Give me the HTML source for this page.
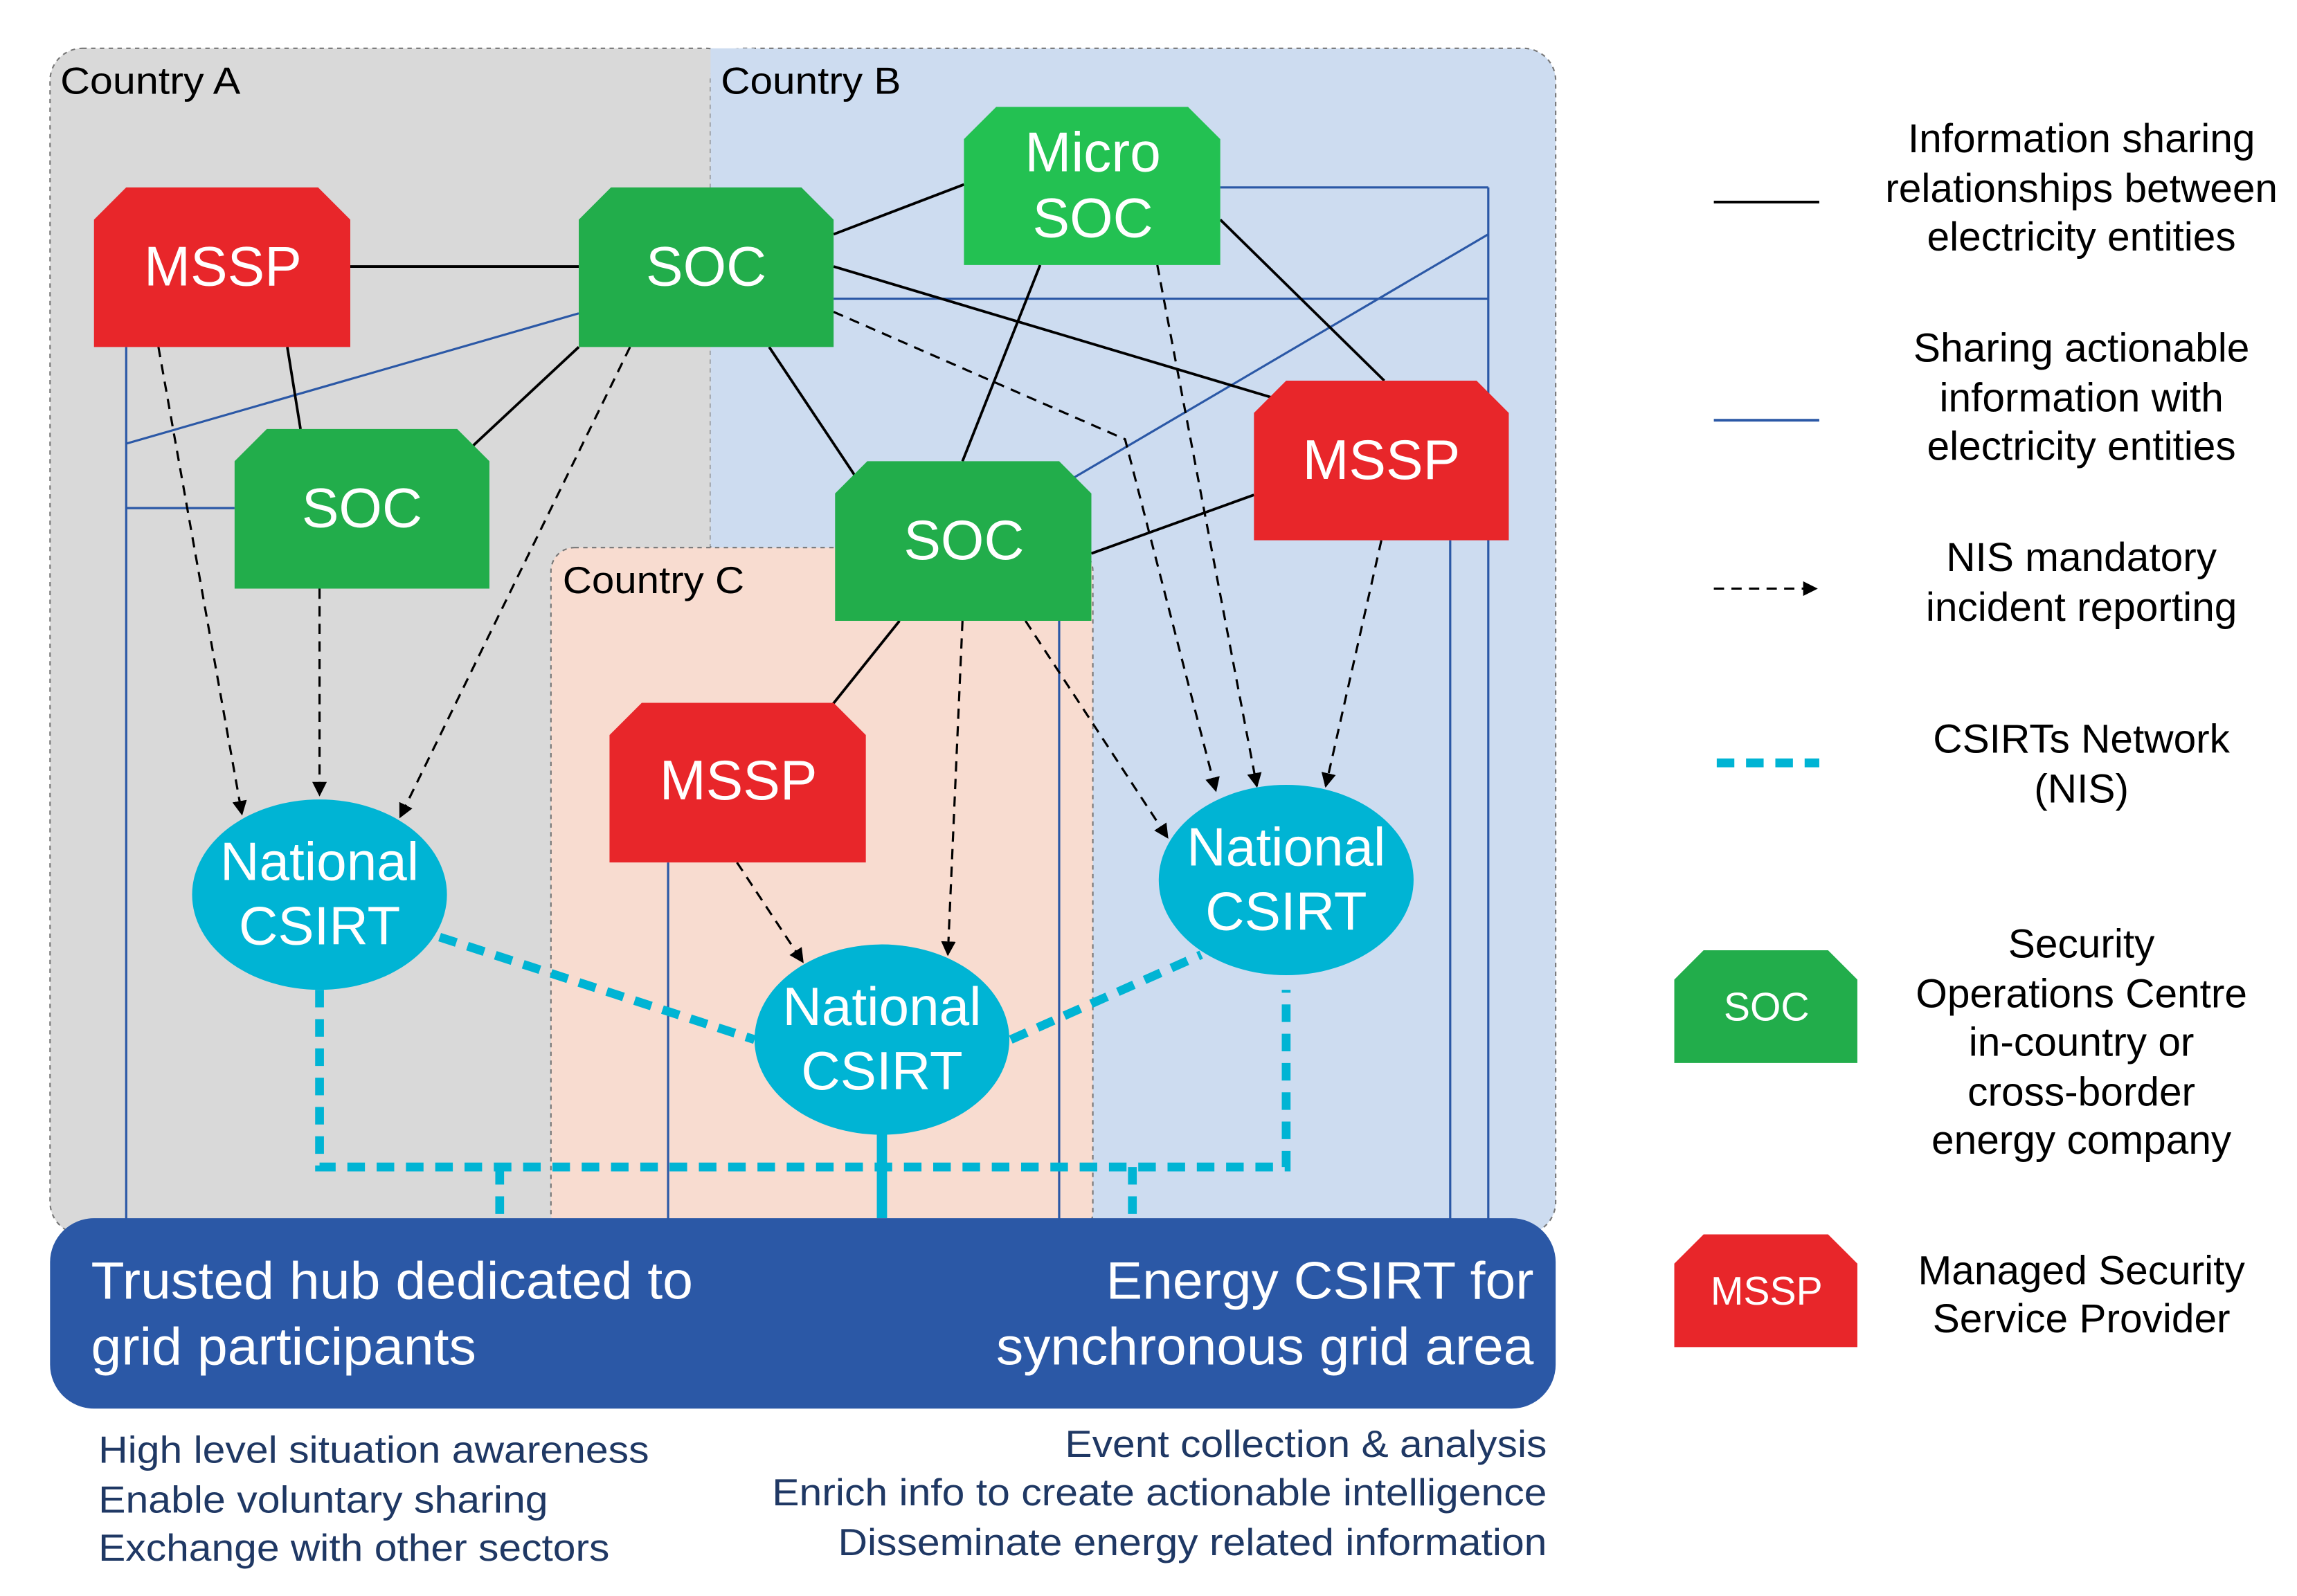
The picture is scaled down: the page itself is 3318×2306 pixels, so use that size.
<!DOCTYPE html>
<html><head><meta charset="utf-8"><style>
html,body{margin:0;padding:0;background:#fff}
svg{display:block}
text{font-family:"Liberation Sans",Arial,sans-serif}
</style></head><body>
<svg width="3318" height="2306" viewBox="0 0 1568 1090" xmlns="http://www.w3.org/2000/svg">
<defs>
<marker id="ah" markerWidth="10" markerHeight="10" refX="9" refY="5" orient="auto" markerUnits="userSpaceOnUse"><path d="M0,0 L10,5 L0,10 z" fill="#000"/></marker>
</defs>
<rect width="1568" height="1090" fill="#fff"/>
<rect x="34" y="33" width="470" height="810" rx="22" fill="#d9d9d9" stroke="#777" stroke-dasharray="3,3"/>
<rect x="485" y="33" width="577" height="810" rx="22" fill="#cddcf0" stroke="#777" stroke-dasharray="3,3"/>
<rect x="485" y="33" width="30" height="340" fill="#cddcf0"/>
<rect x="376" y="374" width="370" height="470" rx="16" fill="#f8dcd0" stroke="#777" stroke-dasharray="3,3"/>
<text x="41" y="64" font-size="26" textLength="123" lengthAdjust="spacingAndGlyphs">Country A</text>
<text x="492" y="64" font-size="26" textLength="123" lengthAdjust="spacingAndGlyphs">Country B</text>
<text x="384" y="405" font-size="26" textLength="124" lengthAdjust="spacingAndGlyphs">Country C</text>
<g stroke="#2b58a6" stroke-width="1.5" fill="none">
<line x1="86" y1="237" x2="86" y2="834"/>
<line x1="1016" y1="128" x2="1016" y2="834"/>
<line x1="833" y1="128" x2="1016" y2="128"/>
<line x1="569" y1="204" x2="1016" y2="204"/>
<line x1="86" y1="303" x2="395" y2="214"/>
<line x1="86" y1="347" x2="160" y2="347"/>
<line x1="730" y1="328" x2="1016" y2="160"/>
<line x1="990" y1="369" x2="990" y2="834"/>
<line x1="456" y1="589" x2="456" y2="834"/>
<line x1="723" y1="424" x2="723" y2="834"/>
</g>
<g stroke="#000" stroke-width="1.8">
<line x1="239" y1="182" x2="395" y2="182"/>
<line x1="196" y1="237" x2="205" y2="293"/>
<line x1="395" y1="237" x2="320" y2="307"/>
<line x1="569" y1="160" x2="658" y2="126"/>
<line x1="569" y1="182" x2="870" y2="272"/>
<line x1="525" y1="237" x2="585" y2="327"/>
<line x1="710" y1="181" x2="657" y2="315"/>
<line x1="833" y1="150" x2="945" y2="260"/>
<line x1="745" y1="378" x2="856" y2="338"/>
<line x1="614" y1="424" x2="566" y2="484"/>
</g>
<g stroke="#000" stroke-width="1.5" stroke-dasharray="7,5" fill="none" marker-end="url(#ah)">
<line x1="108" y1="237" x2="165" y2="556"/>
<line x1="218" y1="402" x2="218" y2="543"/>
<line x1="430" y1="237" x2="273" y2="558"/>
<polyline points="569,213 768,300 830,540"/>
<line x1="790" y1="181" x2="858" y2="537"/>
<line x1="943" y1="369" x2="905" y2="537"/>
<line x1="700" y1="424" x2="797" y2="572"/>
<line x1="657" y1="424" x2="647" y2="652"/>
<line x1="503" y1="589" x2="548" y2="657"/>
</g>
<g stroke="#00b4d4" stroke-width="6" fill="none" stroke-dasharray="12,8">
<line x1="300" y1="640" x2="515" y2="710"/>
<line x1="690" y1="710" x2="820" y2="652"/>
<polyline points="218,676 218,797 878,797 878,676"/>
<line x1="341" y1="797" x2="341" y2="832"/>
<line x1="773" y1="797" x2="773" y2="832"/>
</g>
<line x1="602" y1="770" x2="602" y2="832" stroke="#00b4d4" stroke-width="7"/>
<g font-size="38" fill="#fff" text-anchor="middle">
<path d="M86,128 H217 L239,150 V237 H64 V150 Z" fill="#e8262a"/><text x="152" y="195" fill="#fff">MSSP</text>
<path d="M417,128 H547 L569,150 V237 H395 V150 Z" fill="#22ad4b"/><text x="482" y="195" fill="#fff">SOC</text>
<path d="M680,73 H811 L833,95 V181 H658 V95 Z" fill="#23c152"/><text x="746" y="117" fill="#fff">Micro</text><text x="746" y="162" fill="#fff">SOC</text>
<path d="M182,293 H312 L334,315 V402 H160 V315 Z" fill="#22ad4b"/><text x="247" y="360" fill="#fff">SOC</text>
<path d="M592,315 H723 L745,337 V424 H570 V337 Z" fill="#22ad4b"/><text x="658" y="382" fill="#fff">SOC</text>
<path d="M878,260 H1008 L1030,282 V369 H856 V282 Z" fill="#e8262a"/><text x="943" y="327" fill="#fff">MSSP</text>
<path d="M438,480 H569 L591,502 V589 H416 V502 Z" fill="#e8262a"/><text x="504" y="546" fill="#fff">MSSP</text>
</g>
<g font-size="37" fill="#fff" text-anchor="middle">
<ellipse cx="218" cy="611" rx="87" ry="65" fill="#00b4d4"/><text x="218" y="601" fill="#fff">National</text><text x="218" y="645" fill="#fff">CSIRT</text>
<ellipse cx="602" cy="710" rx="87" ry="65" fill="#00b4d4"/><text x="602" y="700" fill="#fff">National</text><text x="602" y="744" fill="#fff">CSIRT</text>
<ellipse cx="878" cy="601" rx="87" ry="65" fill="#00b4d4"/><text x="878" y="591" fill="#fff">National</text><text x="878" y="635" fill="#fff">CSIRT</text>
</g>
<rect x="34" y="832" width="1028" height="130" rx="30" fill="#2b58a6"/>
<g font-size="36" fill="#fff" lengthAdjust="spacingAndGlyphs">
<text x="62" y="887" fill="#fff" textLength="411" lengthAdjust="spacingAndGlyphs">Trusted hub dedicated to</text>
<text x="62" y="932" fill="#fff" textLength="263" lengthAdjust="spacingAndGlyphs">grid participants</text>
<text x="1047" y="887" fill="#fff" text-anchor="end" textLength="292" lengthAdjust="spacingAndGlyphs">Energy CSIRT for</text>
<text x="1047" y="932" fill="#fff" text-anchor="end" textLength="367" lengthAdjust="spacingAndGlyphs">synchronous grid area</text>
</g>
<g font-size="26" fill="#1f3864">
<text x="67" y="999" textLength="376" lengthAdjust="spacingAndGlyphs">High level situation awareness</text>
<text x="67" y="1033" textLength="307" lengthAdjust="spacingAndGlyphs">Enable voluntary sharing</text>
<text x="67" y="1066" textLength="349" lengthAdjust="spacingAndGlyphs">Exchange with other sectors</text>
<text x="1056" y="995" text-anchor="end" textLength="329" lengthAdjust="spacingAndGlyphs">Event collection &amp; analysis</text>
<text x="1056" y="1028" text-anchor="end" textLength="529" lengthAdjust="spacingAndGlyphs">Enrich info to create actionable intelligence</text>
<text x="1056" y="1062" text-anchor="end" textLength="484" lengthAdjust="spacingAndGlyphs">Disseminate energy related information</text>
</g>
<line x1="1170" y1="138" x2="1242" y2="138" stroke="#000" stroke-width="1.8"/>
<line x1="1170" y1="287" x2="1242" y2="287" stroke="#2b58a6" stroke-width="1.8"/>
<line x1="1170" y1="402" x2="1240" y2="402" stroke="#000" stroke-width="1.5" stroke-dasharray="7,5" marker-end="url(#ah)"/>
<line x1="1172" y1="521" x2="1242" y2="521" stroke="#00b4d4" stroke-width="6" stroke-dasharray="12,8"/>
<path d="M1163,649 H1248 L1268,669 V726 H1143 V669 Z" fill="#22ad4b"/>
<text x="1206" y="697" font-size="27" fill="#fff" text-anchor="middle">SOC</text>
<path d="M1163,843 H1248 L1268,863 V920 H1143 V863 Z" fill="#e8262a"/>
<text x="1206" y="891" font-size="27" fill="#fff" text-anchor="middle">MSSP</text>
<g font-size="27.7" fill="#000" text-anchor="middle">
<text x="1421" y="104">Information sharing</text>
<text x="1421" y="138">relationships between</text>
<text x="1421" y="171">electricity entities</text>
<text x="1421" y="247">Sharing actionable</text>
<text x="1421" y="281">information with</text>
<text x="1421" y="314">electricity entities</text>
<text x="1421" y="390">NIS mandatory</text>
<text x="1421" y="424">incident reporting</text>
<text x="1421" y="514">CSIRTs Network</text>
<text x="1421" y="548">(NIS)</text>
<text x="1421" y="654">Security</text>
<text x="1421" y="688">Operations Centre</text>
<text x="1421" y="721">in-country or</text>
<text x="1421" y="755">cross-border</text>
<text x="1421" y="788">energy company</text>
<text x="1421" y="877">Managed Security</text>
<text x="1421" y="910">Service Provider</text>
</g>
</svg>
</body></html>
